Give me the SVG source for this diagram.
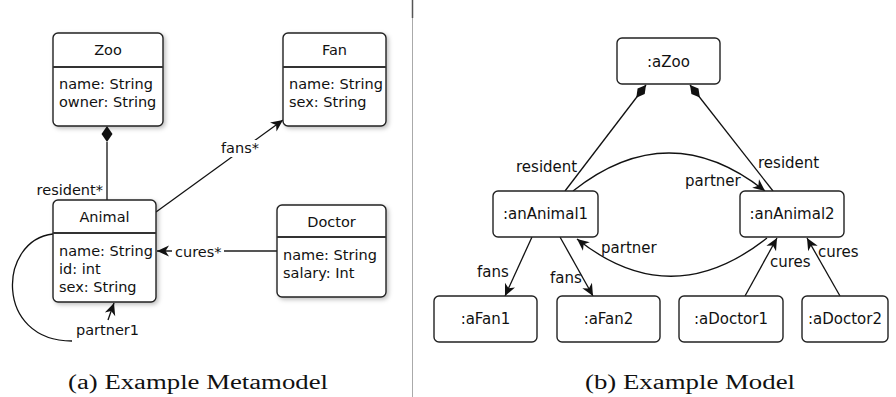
<svg xmlns="http://www.w3.org/2000/svg" width="896" height="397" viewBox="0 0 896 397">
<defs>
<style>
.box{fill:#fff;stroke:#222;stroke-width:1.4}
.dv{stroke:#333;stroke-width:2}
.t{font-family:"DejaVu Sans","Liberation Sans",sans-serif;font-size:14.5px;fill:#111}
.tr{font-family:"DejaVu Sans","Liberation Sans",sans-serif;font-size:15px;fill:#111}
.c{text-anchor:middle}
.ln{fill:none;stroke:#111;stroke-width:1.3}
.bg{fill:#fff}
.cap{font-family:"Liberation Serif","DejaVu Serif",serif;font-size:20px;fill:#111;text-anchor:middle}
</style>
<filter id="sh" x="-10%" y="-10%" width="130%" height="130%">
<feDropShadow dx="2" dy="2" stdDeviation="2" flood-color="#000" flood-opacity="0.25"/>
</filter>
<marker id="arr" markerUnits="userSpaceOnUse" viewBox="0 0 16 14" markerWidth="16" markerHeight="14" refX="13" refY="7" orient="auto">
<path d="M1,1.5 L13,7 L1,12.5 L4.5,7 z" fill="#111"/>
</marker>
<marker id="dia" markerUnits="userSpaceOnUse" viewBox="0 0 18 12" markerWidth="18" markerHeight="12" refX="1" refY="6" orient="auto">
<path d="M1,6 L9,1.5 L17,6 L9,10.5 z" fill="#111"/>
</marker>
</defs>

<line x1="412.5" y1="0" x2="412.5" y2="397" stroke="#aaa" stroke-width="1"/>
<line x1="412.5" y1="0" x2="412.5" y2="18" stroke="#555" stroke-width="1.5"/>

<g id="connectors">
<line class="ln" x1="107" y1="142" x2="107" y2="200"/>
<polygon points="107,126 112.5,134 107,142 101.5,134" fill="#111"/>
<line class="ln" x1="156" y1="212" x2="283" y2="120" marker-end="url(#arr)"/>
<line x1="277" y1="251" x2="157" y2="251" stroke="#555" stroke-width="1.8" marker-end="url(#arr)"/>
<path class="ln" d="M53,234 C-2,240 -6,341 72,341"/>
<line class="ln" x1="108" y1="320" x2="114" y2="303" marker-end="url(#arr)"/>

<line class="ln" x1="646" y1="85" x2="565" y2="191" marker-start="url(#dia)"/>
<line class="ln" x1="690" y1="85" x2="773" y2="191" marker-start="url(#dia)"/>
<path class="ln" d="M573,191 Q669,115 765,191" marker-end="url(#arr)"/>
<path class="ln" d="M767,238 Q671,314 577,239" marker-end="url(#arr)"/>
<line class="ln" x1="532" y1="237" x2="505" y2="296" marker-end="url(#arr)"/>
<line class="ln" x1="560" y1="237" x2="593" y2="296" marker-end="url(#arr)"/>
<line class="ln" x1="745" y1="296" x2="777" y2="238" marker-end="url(#arr)"/>
<line class="ln" x1="840" y1="296" x2="807" y2="238" marker-end="url(#arr)"/>

<text class="t" x="103" y="195" text-anchor="end">resident*</text>
<rect class="bg" x="219" y="140" width="43" height="17"/>
<text class="t" x="221" y="153">fans*</text>
<rect class="bg" x="172" y="242" width="52" height="17"/>
<text class="t" x="175" y="257">cures*</text>
<text class="t" x="76" y="335">partner1</text>

<text class="tr" x="516" y="172">resident</text>
<text class="tr" x="758" y="168">resident</text>
<text class="tr" x="685" y="186">partner</text>
<text class="tr" x="601" y="253">partner</text>
<text class="tr" x="477" y="277">fans</text>
<text class="tr" x="550" y="283">fans</text>
<text class="tr" x="770" y="267">cures</text>
<text class="tr" x="818" y="257">cures</text>
</g>

<g id="zoo">
<rect class="box" x="53" y="33" width="110" height="93" rx="5" filter="url(#sh)"/>
<line class="dv" x1="53" y1="67" x2="163" y2="67"/>
<text class="t c" x="108" y="55">Zoo</text>
<text class="t" x="59" y="89">name: String</text>
<text class="t" x="59" y="107">owner: String</text>
</g>
<g id="fan">
<rect class="box" x="283" y="33" width="103" height="93" rx="5" filter="url(#sh)"/>
<line class="dv" x1="283" y1="67" x2="386" y2="67"/>
<text class="t c" x="334.5" y="55">Fan</text>
<text class="t" x="289" y="89">name: String</text>
<text class="t" x="289" y="107">sex: String</text>
</g>
<g id="animal">
<rect class="box" x="53" y="200" width="103" height="102" rx="5" filter="url(#sh)"/>
<line class="dv" x1="53" y1="233" x2="156" y2="233"/>
<text class="t c" x="104.5" y="222">Animal</text>
<text class="t" x="59" y="256">name: String</text>
<text class="t" x="59" y="274">id: int</text>
<text class="t" x="59" y="292">sex: String</text>
</g>
<g id="doctor">
<rect class="box" x="277" y="205" width="109" height="92" rx="5" filter="url(#sh)"/>
<line class="dv" x1="277" y1="237" x2="386" y2="237"/>
<text class="t c" x="331.5" y="227">Doctor</text>
<text class="t" x="283" y="260">name: String</text>
<text class="t" x="283" y="278">salary: Int</text>
</g>

<g id="aZoo">
<rect class="box" x="617" y="38" width="103" height="46" rx="5"/>
<text class="tr c" x="668.5" y="67">:aZoo</text>
</g>
<g id="anAnimal1">
<rect class="box" x="493" y="191" width="105" height="46" rx="5"/>
<text class="tr c" x="545.5" y="219">:anAnimal1</text>
</g>
<g id="anAnimal2">
<rect class="box" x="740" y="191" width="104" height="46" rx="5"/>
<text class="tr c" x="792" y="219">:anAnimal2</text>
</g>
<g id="aFan1">
<rect class="box" x="434" y="296" width="103" height="46" rx="5"/>
<text class="tr c" x="485.5" y="324">:aFan1</text>
</g>
<g id="aFan2">
<rect class="box" x="557" y="296" width="103" height="46" rx="5"/>
<text class="tr c" x="608.5" y="324">:aFan2</text>
</g>
<g id="aDoctor1">
<rect class="box" x="679" y="296" width="104" height="46" rx="5"/>
<text class="tr c" x="731" y="324">:aDoctor1</text>
</g>
<g id="aDoctor2">
<rect class="box" x="802" y="296" width="86" height="46" rx="5"/>
<text class="tr c" x="845" y="324">:aDoctor2</text>
</g>

<text class="cap" x="198" y="389" textLength="260" lengthAdjust="spacingAndGlyphs">(a) Example Metamodel</text>
<text class="cap" x="690" y="389" textLength="210" lengthAdjust="spacingAndGlyphs">(b) Example Model</text>
</svg>
